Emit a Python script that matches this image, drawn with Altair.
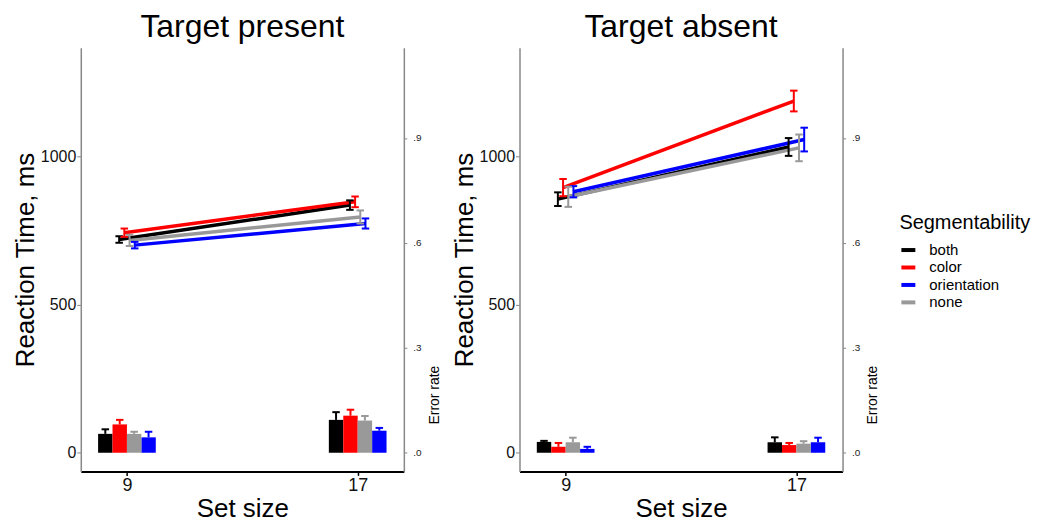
import altair as alt
import pandas as pd

# ---------------- data ----------------
groups = ["both", "color", "orientation", "none"]
group_colors = ["#000000", "#ff0000", "#0000ff", "#999999"]
dodge_order = ["both", "color", "none", "orientation"]
panels = ["Target present", "Target absent"]
set_sizes = [9, 17]

# reaction time (ms), order = groups
rt_present_9 = [719, 742, 700, 716]
rt_present_17 = [835, 846, 773, 795]
rt_present_se_9 = [11, 14, 11, 19]
rt_present_se_17 = [16, 18, 17, 22]
rt_absent_9 = [855, 894, 880, 863]
rt_absent_17 = [1031, 1186, 1056, 1028]
rt_absent_se_9 = [23, 29, 19, 34]
rt_absent_se_17 = [30, 35, 40, 45]

# error rate, order = groups
err_present_9 = [0.054, 0.081, 0.044, 0.054]
err_present_17 = [0.094, 0.106, 0.063, 0.092]
err_present_se_9 = [0.013, 0.013, 0.016, 0.006]
err_present_se_17 = [0.022, 0.017, 0.008, 0.013]
err_absent_9 = [0.031, 0.017, 0.011, 0.030]
err_absent_17 = [0.030, 0.022, 0.030, 0.026]
err_absent_se_9 = [0.003, 0.011, 0.006, 0.013]
err_absent_se_17 = [0.014, 0.006, 0.013, 0.007]

table = {
    "Target present": {
        9: (rt_present_9, rt_present_se_9, err_present_9, err_present_se_9),
        17: (rt_present_17, rt_present_se_17, err_present_17, err_present_se_17),
    },
    "Target absent": {
        9: (rt_absent_9, rt_absent_se_9, err_absent_9, err_absent_se_9),
        17: (rt_absent_17, rt_absent_se_17, err_absent_17, err_absent_se_17),
    },
}

rows = []
for p in panels:
    for s in set_sizes:
        rt, rse, er, ese = table[p][s]
        for i, g in enumerate(groups):
            rows.append({"panel": p, "group": g, "size": s,
                         "rt": rt[i], "rt_se": rse[i], "err": er[i], "err_se": ese[i]})
df = pd.DataFrame(rows)

FONT = "Liberation Sans"
dodge_expr = "indexof(['" + "','".join(dodge_order) + "'], datum.group)"

x_scale = alt.Scale(domain=[7.4, 18.6], nice=False, zero=False)
rt_scale = alt.Scale(domain=[-63, 1366], nice=False, zero=False)
er_scale = alt.Scale(domain=[-0.0533, 1.158], nice=False, zero=False)

x_axis = alt.Axis(values=set_sizes, title="Set size", grid=False,
                  labelFontSize=18, titleFontSize=26, titleFontWeight="normal",
                  labelColor="#111", titleColor="#000", domainColor="#000",
                  domainWidth=2, tickColor="#000", tickSize=4, tickWidth=1.5,
                  labelPadding=1, titlePadding=1)
rt_axis = alt.Axis(values=[0, 500, 1000], format="d", title="Reaction Time, ms",
                   grid=False, labelFontSize=16, titleFontSize=26,
                   titleFontWeight="normal", labelColor="#111", titleColor="#000",
                   domainColor="#888", domainWidth=1.5, tickColor="#888",
                   tickSize=4, labelPadding=1, titlePadding=2)
er_axis = alt.Axis(values=[0, 0.3, 0.6, 0.9], orient="right", title="Error rate",
                   labelExpr="replace(format(datum.value, '.1f'), '0.', '.')",
                   grid=False, labelFontSize=10, titleFontSize=14,
                   titleFontWeight="normal", labelColor="#222", titleColor="#000",
                   domainColor="#888", domainWidth=1.5, tickColor="#888",
                   tickSize=3, labelPadding=6, titlePadding=20, titleAngle=270,
                   titleY=348)


def panel(name, show_legend):
    if show_legend:
        legend = alt.Legend(title="Segmentability", orient="none", legendX=381,
                            legendY=166, titleFontSize=20,
                            titleFontWeight="normal", titleColor="#000",
                            labelFontSize=15, labelColor="#000",
                            symbolType="stroke", symbolStrokeWidth=4,
                            symbolSize=196, rowPadding=0.5, titlePadding=8,
                            labelOffset=12)
    else:
        legend = None
    color = alt.Color("group:N",
                      scale=alt.Scale(domain=groups, range=group_colors),
                      legend=legend)

    base = (alt.Chart(df)
            .transform_filter(alt.datum.panel == name)
            .transform_calculate(
                idx=dodge_expr,
                xl="datum.size + (datum.idx - 1.5) * 0.18",
                bx="datum.size + (datum.idx - 2) * 0.5",
                rt_lo="datum.rt - datum.rt_se",
                rt_hi="datum.rt + datum.rt_se",
                er_hi="datum.err + datum.err_se",
            )
            .transform_calculate(
                bx2="datum.bx + 0.5",
                bc="datum.bx + 0.25",
                cl="datum.xl - 0.13",
                cr="datum.xl + 0.13",
            )
            .transform_calculate(
                bcl="datum.bc - 0.13",
                bcr="datum.bc + 0.13",
            ))

    X = lambda f: alt.X(f, scale=x_scale, axis=x_axis)

    lines = base.mark_line(strokeWidth=3.5).encode(
        x=X("xl:Q"), y=alt.Y("rt:Q", scale=rt_scale, axis=rt_axis), color=color)
    stems = base.mark_rule(strokeWidth=2).encode(
        x=X("xl:Q"), y=alt.Y("rt_lo:Q", scale=rt_scale, axis=rt_axis),
        y2="rt_hi:Q", color=color)
    caps = (base.transform_fold(["rt_lo", "rt_hi"], as_=["which", "cap"])
            .mark_rule(strokeWidth=2)
            .encode(x=X("cl:Q"), x2="cr:Q",
                    y=alt.Y("cap:Q", scale=rt_scale, axis=rt_axis), color=color))
    rt_layer = alt.layer(lines, stems, caps)

    estems = base.mark_rule(strokeWidth=2).encode(
        x=X("bc:Q"), y=alt.Y("err:Q", scale=er_scale, axis=er_axis),
        y2="er_hi:Q", color=color)
    ecaps = base.mark_rule(strokeWidth=2).encode(
        x=X("bcl:Q"), x2="bcr:Q",
        y=alt.Y("er_hi:Q", scale=er_scale, axis=er_axis), color=color)
    bars = base.mark_bar().encode(
        x=X("bx:Q"), x2="bx2:Q",
        y=alt.Y("err:Q", scale=er_scale, axis=er_axis), y2=alt.datum(0),
        color=color)
    er_layer = alt.layer(estems, ecaps, bars)

    return (alt.layer(rt_layer, er_layer)
            .resolve_scale(y="independent")
            .properties(width=324, height=425,
                        title=alt.TitleParams(name, fontSize=32,
                                              fontWeight="normal", color="#000",
                                              anchor="middle", frame="group",
                                              offset=4)))


chart = (alt.hconcat(panel("Target present", False), panel("Target absent", True),
                     spacing=9)
         .resolve_scale(x="independent", y="independent", color="independent")
         .properties(padding={"left": 4, "top": 2, "right": 0, "bottom": 0})
         .configure(font=FONT)
         .configure_view(stroke=None)
         .configure_axis(grid=False))

chart.save("out.html", embed_options={"renderer": "svg", "actions": False})
